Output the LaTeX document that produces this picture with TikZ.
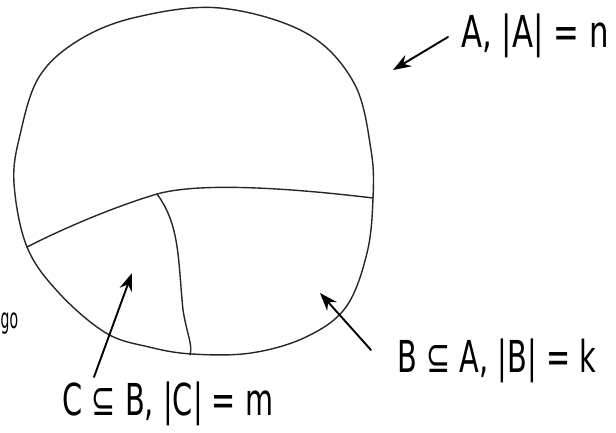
\documentclass[tikz,border=0pt]{standalone}
\usepackage{fontspec}
\setmainfont{DejaVu Sans}
\usepackage{graphicx}
\usetikzlibrary{arrows.meta}
\newcommand\hsq[2]{\scalebox{#1}[1]{#2}}
\begin{document}
\begin{tikzpicture}[x=1pt,y=-1pt,
  outline/.style={line width=1.4pt, draw=black!85, line join=round, line cap=round},
  arr/.style={line width=1.9pt, line cap=round, -{Stealth[length=18pt,width=13pt]}},
  lbl/.style={font=\fontsize{44}{48}\selectfont, inner sep=0pt}
]
\useasboundingbox (0,0) rectangle (616,432);
% outer set A
\draw[outline] plot[smooth cycle, tension=0.6] coordinates {
 (220,8) (306,33) (354,83) (371,150) (373,198) (367,253) (346,307) (306,337)
 (251,353) (192,354) (149,347) (106,333) (59,293) (27,247) (14,183) (20,135)
 (39,77) (79,40) (137,17)};
% division lines
\coordinate (L) at (27,247);
\coordinate (J) at (157,194);
\coordinate (R) at (373,198);
\coordinate (Bt) at (190,355);
\draw[outline] (L) .. controls (70,225) and (120,205) .. (J)
  .. controls (200,182) and (290,188) .. (R);
\draw[outline] (J) .. controls (180,225) and (178,260) .. (183,310)
  .. controls (187,335) and (193,345) .. (Bt);
% labels
\node[lbl] (la) at (535,36) {\hsq{0.70}{A, |A| = n}};
\node[lbl] (lb) at (497,361) {\hsq{0.655}{B ⊆ A, |B| = k}};
\node[lbl] (lc) at (168,404) {\hsq{0.655}{C ⊆ B, |C| = m}};
\node[font=\fontsize{28}{30}\selectfont, inner sep=0pt, anchor=west] (lg) at (0.5,324) {\hsq{0.5}{go}};
% arrows
\coordinate (at) at (448,37); \coordinate (ah) at (393,70);
\coordinate (bt) at (371,350); \coordinate (bh) at (320,293);
\coordinate (ct) at (94,377); \coordinate (ch) at (132,273);
\draw[arr] (at) -- (ah);
\draw[arr] (bt) -- (bh);
\draw[arr] (ct) -- (ch);
\end{tikzpicture}
\end{document}
